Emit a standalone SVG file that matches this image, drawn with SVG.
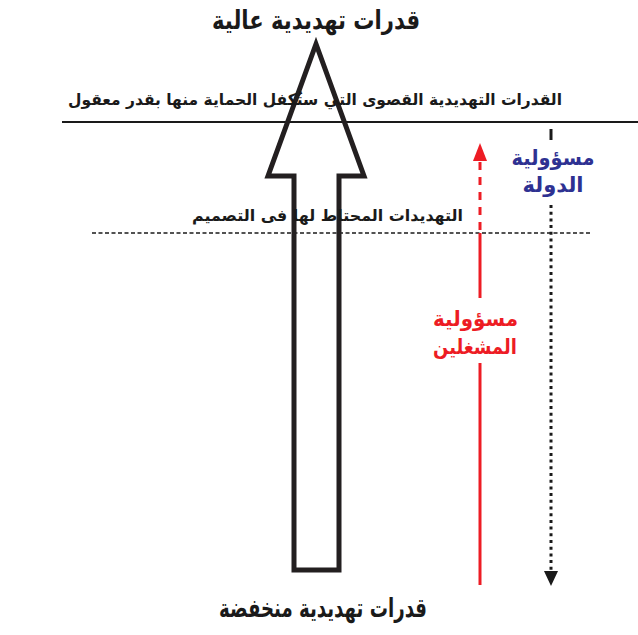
<svg xmlns="http://www.w3.org/2000/svg" width="638" height="635" viewBox="0 0 638 635">
<style>
.t{font-family:"DejaVu Sans","Noto Sans",sans-serif;font-weight:bold;text-anchor:middle}
.blk{fill:#1a1a1a}
.blue{fill:#2e3192}
.red{fill:#ed1c24}
</style>
<rect width="638" height="635" fill="#fff"/>
<g id="lines">
<line x1="62" y1="122" x2="638" y2="122" stroke="#1a1a1a" stroke-width="2"/>
<line x1="92" y1="233" x2="592" y2="233" stroke="#1a1a1a" stroke-width="1.3" stroke-dasharray="4 2.5"/>
</g>
<g id="big-arrow">
<path d="M294,570 L294,176 L268,176 L316,44 L364,176 L339,176 L339,570 Z" fill="none" stroke="#231f20" stroke-width="5" stroke-linejoin="miter" stroke-miterlimit="10"/>
</g>
<g id="connectors">
<line x1="480" y1="162" x2="480" y2="233" stroke="#ed1c24" stroke-width="3" stroke-dasharray="8 7"/>
<line x1="480" y1="233" x2="480" y2="298" stroke="#ed1c24" stroke-width="3"/>
<line x1="480" y1="363" x2="480" y2="585" stroke="#ed1c24" stroke-width="3"/>
<path d="M473,161 L480,143 L487,161 Z" fill="#ed1c24"/>
<line x1="551" y1="129" x2="551" y2="140" stroke="#1a1a1a" stroke-width="3"/>
<line x1="551" y1="205" x2="551" y2="571" stroke="#1a1a1a" stroke-width="3" stroke-dasharray="3 3.7"/>
<path d="M544,571 L551,586 L558,571 Z" fill="#1a1a1a"/>
</g>
<g id="labels">
<text class="t blk" x="316" y="29" font-size="26" textLength="208" lengthAdjust="spacingAndGlyphs">قدرات تهديدية عالية</text>
<text class="t blk" x="315" y="105" font-size="16" textLength="494" lengthAdjust="spacingAndGlyphs">القدرات التهديدية القصوى التي ستُكفل الحماية منها بقدر معقول</text>
<text class="t blk" x="327.5" y="221" font-size="16" textLength="271" lengthAdjust="spacingAndGlyphs">التهديدات المحتاط لها فى التصميم</text>
<text class="t blue" x="553" y="165" font-size="21" textLength="83" lengthAdjust="spacingAndGlyphs">مسؤولية</text>
<text class="t blue" x="553" y="192" font-size="21" textLength="61" lengthAdjust="spacingAndGlyphs">الدولة</text>
<text class="t red" x="475.5" y="326" font-size="21" textLength="85" lengthAdjust="spacingAndGlyphs">مسؤولية</text>
<text class="t red" x="475" y="354" font-size="21" textLength="84" lengthAdjust="spacingAndGlyphs">المشغلين</text>
<text class="t blk" x="323" y="617" font-size="26" textLength="208" lengthAdjust="spacingAndGlyphs">قدرات تهديدية منخفضة</text>
</g>
</svg>
